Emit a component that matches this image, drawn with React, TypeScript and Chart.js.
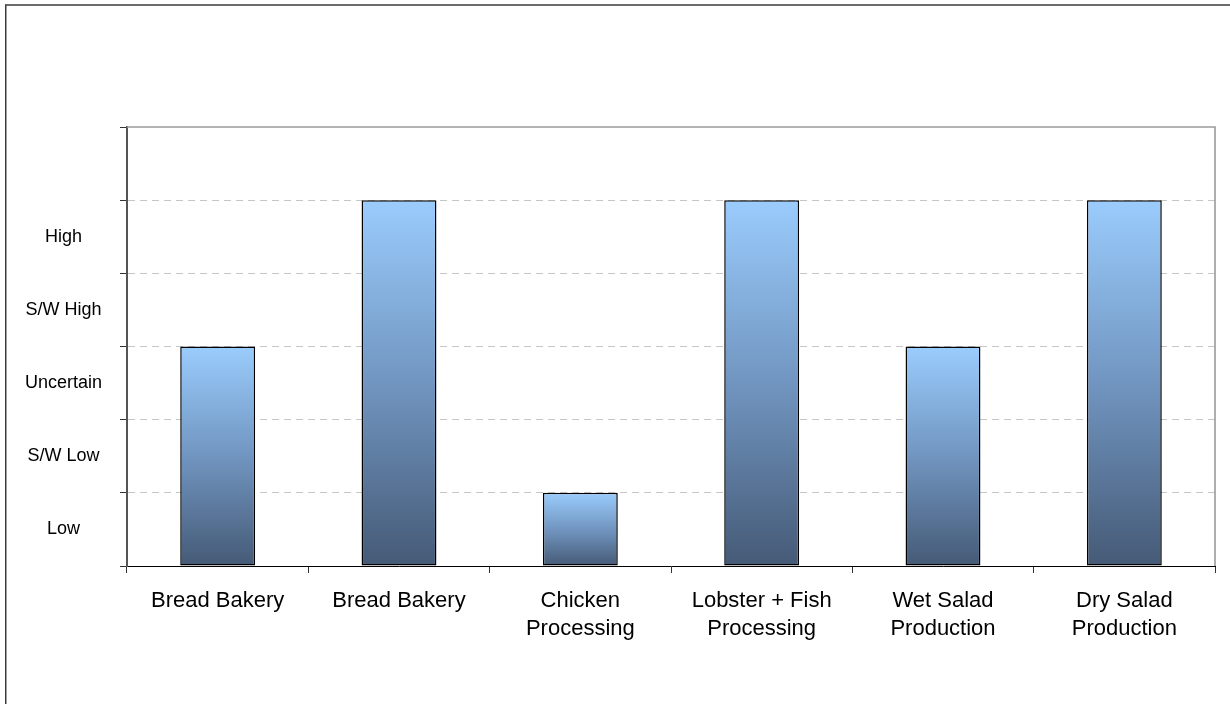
import React, { useEffect, useRef } from "react";
import { Chart, registerables } from "chart.js";

Chart.register(...registerables);

// Plants and their assessed rating (0 = bottom of scale, 6 = top)
const categories: string[][] = [
  ["Bread Bakery"],
  ["Bread Bakery"],
  ["Chicken", "Processing"],
  ["Lobster + Fish", "Processing"],
  ["Wet Salad", "Production"],
  ["Dry Salad", "Production"],
];
const ratings: number[] = [3, 5, 1, 5, 3, 5];

// Rating bands, each label sits in the middle of its band
const bandLabels: string[] = ["Low", "S/W Low", "Uncertain", "S/W High", "High"];
const bandCenters: number[] = [0.5, 1.5, 2.5, 3.5, 4.5];

const FONT = "'Liberation Sans', Arial, Helvetica, sans-serif";

const framePlugin = {
  id: "frames",
  beforeDraw(chart: any) {
    const { ctx, width, height } = chart;
    ctx.save();
    ctx.fillStyle = "#ffffff";
    ctx.fillRect(0, 0, width, height);
    // outer border (top and left edges)
    ctx.strokeStyle = "#3c3c3c";
    ctx.lineWidth = 1.5;
    ctx.beginPath();
    ctx.moveTo(5.75, height);
    ctx.lineTo(5.75, 5);
    ctx.lineTo(width, 5);
    ctx.stroke();
    ctx.restore();
  },
  afterDraw(chart: any) {
    const { ctx, chartArea } = chart;
    ctx.save();
    ctx.strokeStyle = "#9a9a9a";
    ctx.lineWidth = 1.6;
    ctx.beginPath();
    ctx.moveTo(chartArea.left, chartArea.top);
    ctx.lineTo(chartArea.right, chartArea.top);
    ctx.lineTo(chartArea.right, chartArea.bottom);
    ctx.stroke();
    ctx.restore();
  },
};

function barGradient(context: any) {
  const chart = context.chart;
  const { ctx, chartArea } = chart;
  const y = chart.scales && chart.scales.y;
  if (!chartArea || !y || context.raw === undefined) return "#7fa6d0";
  const top = y.getPixelForValue(context.raw);
  const bottom = y.getPixelForValue(0);
  const g = ctx.createLinearGradient(0, top, 0, bottom);
  g.addColorStop(0, "#9ACCFD");
  g.addColorStop(0.5, "#7195C0");
  g.addColorStop(1, "#455A76");
  return g;
}

export default function App() {
  const canvasRef = useRef<HTMLCanvasElement | null>(null);

  useEffect(() => {
    const canvas = canvasRef.current;
    if (!canvas) return;
    const chart = new Chart(canvas, {
      type: "bar",
      data: {
        labels: categories,
        datasets: [
          {
            data: ratings,
            backgroundColor: barGradient,
            borderColor: "#000000",
            borderWidth: 1.5,
            borderSkipped: false,
            categoryPercentage: 1,
            barPercentage: 0.413,
          },
        ],
      },
      options: {
        animation: false,
        responsive: false,
        devicePixelRatio: 1,
        layout: { padding: { left: 0, top: 127, right: 15, bottom: 0 } },
        plugins: {
          legend: { display: false },
          tooltip: { enabled: false },
          title: { display: false },
        },
        scales: {
          x: {
            grid: {
              offset: true,
              drawOnChartArea: false,
              tickLength: 7,
              tickColor: "#333333",
              tickWidth: 1,
            },
            border: { color: "#000000", width: 1 },
            ticks: {
              color: "#000000",
              padding: 14,
              maxRotation: 0,
              autoSkip: false,
              font: { family: FONT, size: 22, lineHeight: 1.27 },
            },
            afterFit(scale: any) {
              scale.height = 704 - 566;
            },
          },
          y: {
            min: 0,
            max: 6,
            afterBuildTicks(scale: any) {
              const vals: number[] = [];
              for (let v = 0; v <= 6; v += 0.5) vals.push(v);
              scale.ticks = vals.map((v) => ({ value: v }));
            },
            grid: {
              color: (c: any) => {
                const v = c.tick ? c.tick.value : 0;
                return Number.isInteger(v) && v > 0 && v < 6 ? "#c6c6c6" : "rgba(0,0,0,0)";
              },
              tickColor: (c: any) => {
                const v = c.tick ? c.tick.value : 0;
                return Number.isInteger(v) ? "#333333" : "rgba(0,0,0,0)";
              },
              tickLength: 7,
              lineWidth: 1,
            },
            border: { color: "#555555", width: 2, dash: [7, 5] },
            ticks: {
              color: "#000000",
              crossAlign: "center",
              padding: 18,
              autoSkip: false,
              font: { family: FONT, size: 18 },
              callback: (value: any) => {
                const i = bandCenters.indexOf(Number(value));
                return i >= 0 ? bandLabels[i] : "";
              },
            },
            afterFit(scale: any) {
              scale.width = 127;
            },
          },
        },
      },
      plugins: [framePlugin],
    } as any);
    return () => chart.destroy();
  }, []);

  return (
    <div style={{ position: "fixed", left: 0, top: 0, width: 1230, height: 704, background: "#fff" }}>
      <canvas ref={canvasRef} width={1230} height={704} style={{ display: "block" }} />
    </div>
  );
}
